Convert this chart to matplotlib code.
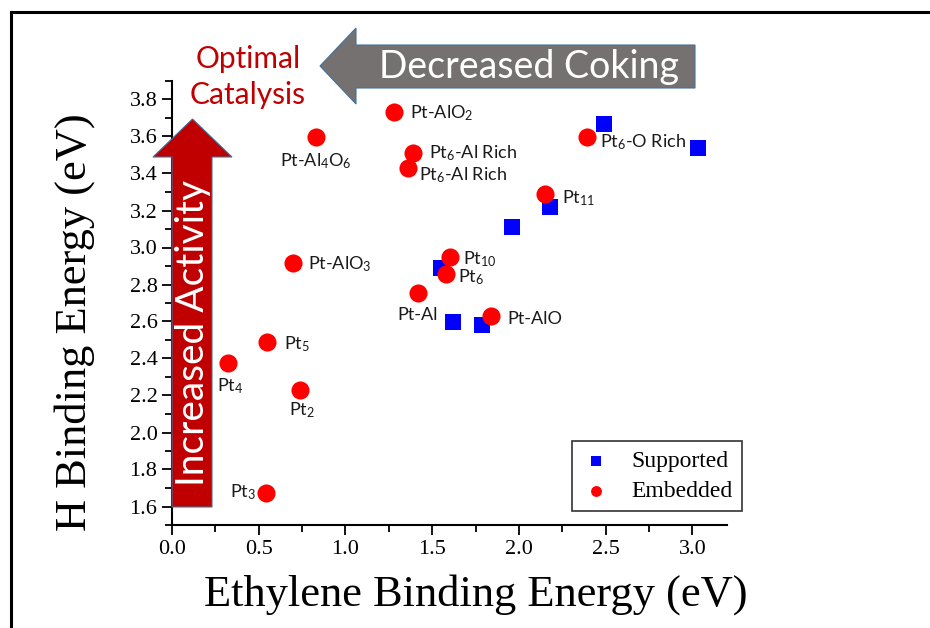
import numpy as np
import matplotlib
matplotlib.use('Agg')
import matplotlib.pyplot as plt
from matplotlib.patches import Polygon
from matplotlib.lines import Line2D
from matplotlib.ticker import MultipleLocator

# datos
soportado_x = [2.49, 3.03, 2.18, 1.96, 1.55, 1.62, 1.79]
soportado_y = [3.67, 3.54, 3.22, 3.11, 2.89, 2.60, 2.58]

embebido_nombres = ['Pt-AlO$\\mathregular{_2}$', 'Pt-Al$\\mathregular{_4}$O$\\mathregular{_6}$',
                    'Pt$\\mathregular{_6}$-Al Rich', 'Pt$\\mathregular{_6}$-Al Rich',
                    'Pt$\\mathregular{_6}$-O Rich', 'Pt$\\mathregular{_{11}}$',
                    'Pt$\\mathregular{_{10}}$', 'Pt$\\mathregular{_6}$',
                    'Pt-AlO$\\mathregular{_3}$', 'Pt-Al', 'Pt-AlO',
                    'Pt$\\mathregular{_5}$', 'Pt$\\mathregular{_4}$',
                    'Pt$\\mathregular{_2}$', 'Pt$\\mathregular{_3}$']
embebido_x = [1.28, 0.83, 1.39, 1.36, 2.39, 2.15, 1.60, 1.58, 0.70, 1.42, 1.84, 0.55, 0.32, 0.74, 0.54]
embebido_y = [3.735, 3.60, 3.51, 3.43, 3.595, 3.29, 2.95, 2.855, 2.915, 2.755, 2.63, 2.49, 2.375, 2.23, 1.675]

# desplazamiento de cada etiqueta (pixeles) y alineacion
desplaz = [(16, -2), (0, -25), (16, 0), (11, -7), (13, -5), (17, -4), (13, -2), (12, -3),
           (15, -1), (-1, -22), (16, -3), (17, -2), (3, -23), (2, -20), (-10, 0)]
alineacion = ['left', 'center', 'left', 'left', 'left', 'left', 'left', 'left',
              'left', 'center', 'left', 'left', 'center', 'center', 'right']

plt.rcParams['font.family'] = 'Liberation Serif'

fig = plt.figure(figsize=(9.3, 6.28), dpi=100)
W, H = 930, 628
ax = fig.add_axes([172/W, 1 - 525/H, 555/W, 444/H])

ax.scatter(soportado_x, soportado_y, marker='s', s=130, color='#0000FF',
           linewidths=0, label='Supported', zorder=3)
ax.scatter(embebido_x, embebido_y, marker='o', s=170, color='#FF0000',
           linewidths=0, label='Embedded', zorder=4)

for nom, x, y, d, ha in zip(embebido_nombres, embebido_x, embebido_y, desplaz, alineacion):
    ax.annotate(nom, (x, y), xytext=d, textcoords='offset pixels', ha=ha, va='center',
                fontsize=13, family='Lato', color='#1a1a1a', zorder=5)

ax.set_xlim(0, 3.2)
ax.set_ylim(1.5, 3.9)
ax.xaxis.set_major_locator(MultipleLocator(0.5))
ax.xaxis.set_minor_locator(MultipleLocator(0.25))
ax.yaxis.set_major_locator(MultipleLocator(0.2))
ax.yaxis.set_minor_locator(MultipleLocator(0.1))
ax.xaxis.set_major_formatter(matplotlib.ticker.FormatStrFormatter('%.1f'))
ax.yaxis.set_major_formatter(matplotlib.ticker.FormatStrFormatter('%.1f'))
ax.tick_params(which='major', direction='out', length=7, width=1.3, labelsize=16)
ax.tick_params(which='minor', direction='out', length=5, width=1.3)
for lado in ['top', 'right']:
    ax.spines[lado].set_visible(False)
for lado in ['left', 'bottom']:
    ax.spines[lado].set_linewidth(1.5)

leg = ax.legend(loc='upper left', bbox_to_anchor=(572/W, 1 - 441/H),
                bbox_transform=fig.transFigure, fontsize=17, markerscale=0.6,
                fancybox=False, edgecolor='#333333', framealpha=1, borderaxespad=0,
                handlelength=1.2, handletextpad=0.9, borderpad=0.4, labelspacing=0.35)
leg.get_frame().set_linewidth(1.2)

fig.text(476/W, 1 - 595/H, 'Ethylene Binding Energy (eV)', ha='center', va='center', fontsize=32)
fig.text(75/W, 1 - 322/H, 'H Binding Energy (eV)', ha='center', va='center', fontsize=32,
         rotation=90)

def pix(puntos):
    return [(x / W, 1 - y / H) for x, y in puntos]

# flecha roja (actividad)
flecha_roja = Polygon(pix([(172, 507), (212, 507), (212, 157), (232, 157), (192.5, 119),
                           (153, 157), (172, 157)]),
                      closed=True, facecolor='#C00000', edgecolor='#41719C', linewidth=0.8,
                      transform=fig.transFigure, zorder=10)
fig.add_artist(flecha_roja)
fig.text(193/W, 1 - 333/H, 'Increased Activity', rotation=90, ha='center', va='center',
         color='white', fontsize=28, family='Lato', zorder=11)

# flecha gris (coque)
flecha_gris = Polygon(pix([(320, 66), (356, 28), (356, 45), (695, 45), (695, 88),
                           (356, 88), (356, 104)]),
                      closed=True, facecolor='#767171', edgecolor='#41719C', linewidth=0.8,
                      transform=fig.transFigure, zorder=10)
fig.add_artist(flecha_gris)
fig.text(529/W, 1 - 67/H, 'Decreased Coking', ha='center', va='center',
         color='white', fontsize=27, family='Lato', zorder=11)

fig.text(248/W, 1 - 77/H, 'Optimal\nCatalysis', ha='center', va='center',
         color='#C00000', fontsize=21.5, family='Lato', linespacing=1.38, zorder=11)

# marco de la captura
fig.add_artist(Line2D([11/W, 1], [1 - 12/H, 1 - 12/H], color='black', linewidth=2.2,
                      transform=fig.transFigure))
fig.add_artist(Line2D([11/W, 11/W], [1 - 12/H, 0], color='black', linewidth=2.2,
                      transform=fig.transFigure))

fig.savefig('out.png', dpi=100)
